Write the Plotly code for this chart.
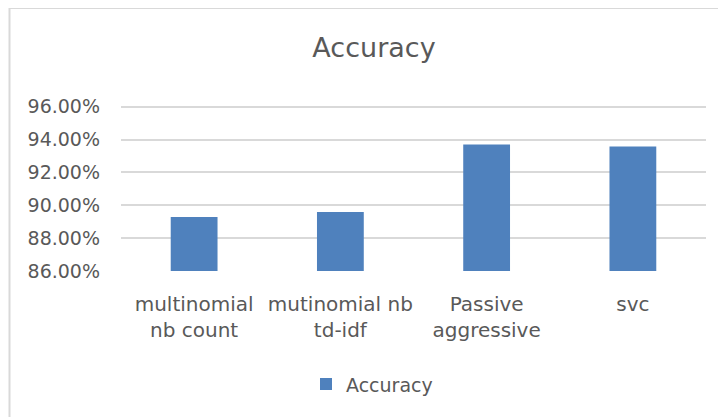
import plotly.graph_objects as go

categories = ["multinomial<br>nb count", "mutinomial nb<br>td-idf", "Passive<br>aggressive", "svc"]
accuracy = [0.8929, 0.8959, 0.9370, 0.9357]
y_ticks = [0.86, 0.88, 0.90, 0.92, 0.94, 0.96]
y_range = [0.86, 0.961]

# the page body has an 8px margin; work in page pixels and shift
OFF = 8
W, H = 726 - OFF, 417 - OFF
scale = (271 - 107) / 0.10          # pixels per unit on the y axis
ph = scale * (y_range[1] - y_range[0])
B = 417 - 271
T = H - B - ph
L, R = 121 - OFF, 726 - 706
pw = W - L - R

def px_x(x):
    return (x - OFF - L) / pw

def px_y(y):
    return (H - B - (y - OFF)) / ph

FONT = "DejaVu Sans"
TXT = "#595959"

fig = go.Figure()
fig.add_trace(go.Bar(
    x=categories, y=accuracy, name="Accuracy",
    marker=dict(color="#4f81bd", line=dict(width=0)),
))

fig.update_layout(
    width=W, height=H,
    margin=dict(l=L, r=R, t=T, b=B, pad=0),
    paper_bgcolor="white", plot_bgcolor="white",
    font=dict(family=FONT, color=TXT, size=19),
    bargap=0.68,
    title=dict(text="Accuracy", x=(374 - OFF) / W, xanchor="center", xref="container",
               y=1 - (48 - OFF) / H, yanchor="middle", yref="container",
               font=dict(family=FONT, size=27, color=TXT)),
    showlegend=True,
    legend=dict(orientation="h", x=px_x(372), xanchor="center", y=px_y(384), yanchor="middle",
                font=dict(family=FONT, size=19, color=TXT), itemwidth=30,
                bgcolor="rgba(0,0,0,0)"),
    xaxis=dict(showgrid=False, showline=False, zeroline=False, ticks="",
               tickfont=dict(family=FONT, size=20, color=TXT), ticklabelstandoff=19),
    yaxis=dict(range=y_range, tickvals=y_ticks, tickformat=".2%",
               showgrid=True, gridcolor="#d9d9d9", gridwidth=1.6,
               showline=False, zeroline=False, ticks="",
               tickfont=dict(family=FONT, size=19, color=TXT), ticklabelstandoff=20),
    shapes=[dict(type="rect", xref="paper", yref="paper",
                 x0=px_x(9.5), x1=px_x(740), y0=px_y(8.5), y1=px_y(440),
                 line=dict(color="#d9d9d9", width=2), fillcolor="rgba(0,0,0,0)", layer="below")],
)

fig.write_html("out.html")
